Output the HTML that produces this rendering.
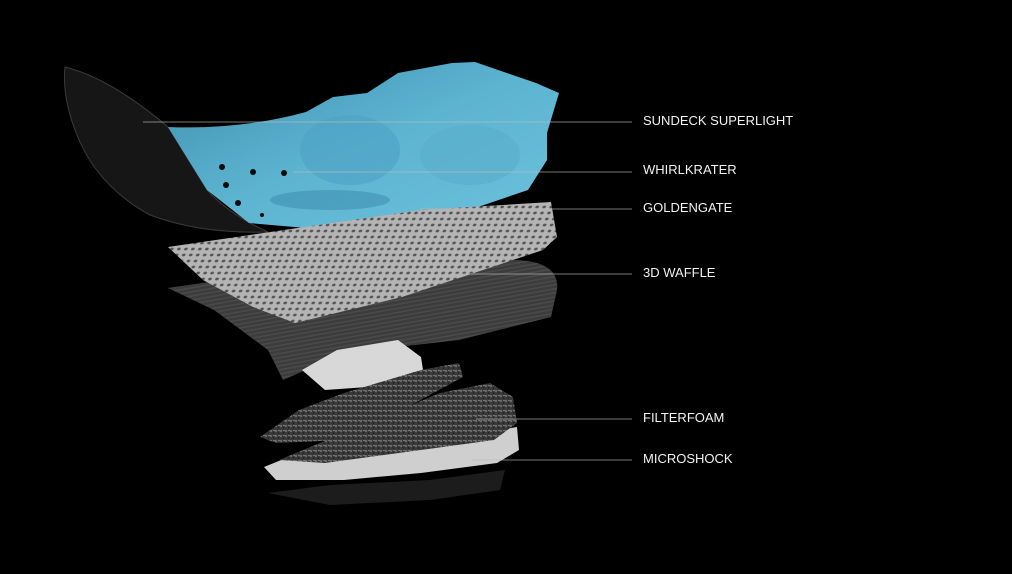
<!DOCTYPE html>
<html><head><meta charset="utf-8"><style>
html,body{margin:0;padding:0;background:#000;}
.wrap{position:relative;width:1012px;height:574px;overflow:hidden;background:#000;font-family:"Liberation Sans",sans-serif;}
.lbl{position:absolute;left:643px;color:#f2f2f2;font-size:13px;letter-spacing:0;line-height:14px;}
</style></head><body><div class="wrap">
<svg width="1012" height="574" style="position:absolute;left:0;top:0">
<defs>
<pattern id="holes" width="7" height="6" patternUnits="userSpaceOnUse" patternTransform="skewX(-20)">
<rect width="7" height="6" fill="#b4b4b4"/><ellipse cx="3.5" cy="3" rx="1.8" ry="1.4" fill="#555"/></pattern>
<pattern id="stripe" width="4" height="4" patternUnits="userSpaceOnUse" patternTransform="rotate(-10)">
<rect width="4" height="4" fill="#3c3c3c"/><rect width="4" height="1.5" fill="#4a4a4a"/></pattern>
<pattern id="speck" width="5" height="5" patternUnits="userSpaceOnUse">
<rect width="5" height="5" fill="#3a3a3a"/><circle cx="1" cy="1" r="0.9" fill="#8a8a8a"/><circle cx="3.5" cy="3" r="0.8" fill="#1a1a1a"/><circle cx="4" cy="0.5" r="0.6" fill="#aaa"/></pattern>
<linearGradient id="blue" x1="0" y1="0" x2="1" y2="1"><stop offset="0" stop-color="#3f8fae"/><stop offset="0.5" stop-color="#5cb4d1"/><stop offset="1" stop-color="#6cc2dc"/></linearGradient>
</defs>
<path d="M65,67 Q110,78 168,127 L207,190 Q230,215 268,232 Q200,234 150,215 Q95,185 75,130 Q62,95 65,67Z" fill="#161616" stroke="#3a3a3a" stroke-width="1"/>
<path d="M168,127 Q240,130 306,112 L333,97 L367,93 L398,73 L452,63 L475,62 L536,83 L559,93 L547,133 L547,160 L528,190 L478,207 L421,210 L383,220 L306,228 L249,223 L207,190Z" fill="url(#blue)"/>
<ellipse cx="350" cy="150" rx="50" ry="35" fill="#4fa4c4" opacity="0.7"/>
<ellipse cx="470" cy="155" rx="50" ry="30" fill="#5aafcc" opacity="0.7"/>
<ellipse cx="330" cy="200" rx="60" ry="10" fill="#3f90b0" opacity="0.6"/>
<g fill="#0a0a0a"><circle cx="222" cy="167" r="3"/><circle cx="253" cy="172" r="3"/><circle cx="284" cy="173" r="3"/><circle cx="226" cy="185" r="3"/><circle cx="238" cy="203" r="3"/><circle cx="262" cy="215" r="2"/></g>
<path d="M168,288 L291,270 L517,260 Q560,262 557,290 L551,317 L459,340 L344,353 L283,380 L268,350 L214,310Z" fill="url(#stripe)"/>
<path d="M168,247 L421,210 L551,202 L557,237 L543,250 L402,297 L295,323 L253,307 L203,280Z" fill="url(#holes)"/>
<path d="M302,370 L337,350 L398,340 L421,357 L425,383 L325,390Z" fill="#d8d8d8"/>
<path d="M264,467 L306,450 L421,443 L517,427 L519,450 L497,463 L421,473 L344,480 L276,480Z" fill="#cfcfcf"/>
<path d="M260,437 L299,410 L344,393 L421,370 L459,363 L463,377 L402,410 L344,440 L276,443Z" fill="url(#speck)"/>
<path d="M279,460 L344,433 L440,393 L490,383 L513,397 L517,423 L494,440 L421,450 L325,463Z" fill="url(#speck)"/>
<path d="M268,493 L330,485 L430,480 L505,470 L500,490 L430,500 L330,505Z" fill="#1c1c1c"/>
<g stroke="#bdbdbd" stroke-width="0.8" opacity="0.85">
<line x1="143" y1="122" x2="632" y2="122"/>
<line x1="293" y1="172" x2="632" y2="172"/>
<line x1="420" y1="209" x2="632" y2="209"/>
<line x1="450" y1="274" x2="632" y2="274"/>
<line x1="476" y1="419" x2="632" y2="419"/>
<line x1="472" y1="460" x2="632" y2="460"/>
</g>
</svg>
<div class="lbl" style="top:114px">SUNDECK SUPERLIGHT</div>
<div class="lbl" style="top:163px">WHIRLKRATER</div>
<div class="lbl" style="top:201px">GOLDENGATE</div>
<div class="lbl" style="top:266px">3D WAFFLE</div>
<div class="lbl" style="top:411px">FILTERFOAM</div>
<div class="lbl" style="top:452px">MICROSHOCK</div>
</div></body></html>
